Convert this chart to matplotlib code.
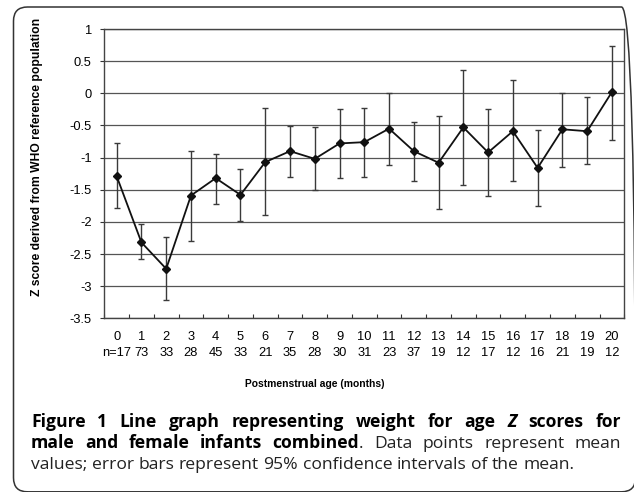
import numpy as np
import matplotlib
matplotlib.use('Agg')
import matplotlib.pyplot as plt
from matplotlib.patches import FancyBboxPatch
from matplotlib.transforms import IdentityTransform

plt.rcParams['font.family'] = ['Liberation Sans', 'DejaVu Sans']
plt.rcParams['axes.unicode_minus'] = False

# data
months = list(range(21))
n_infants = [17, 73, 33, 28, 45, 33, 21, 35, 28, 30, 31, 23, 37, 19, 12, 17, 12, 16, 21, 19, 12]
z_mean = [-1.29, -2.32, -2.73, -1.59, -1.32, -1.58, -1.07, -0.90, -1.02, -0.78, -0.76,
          -0.55, -0.90, -1.08, -0.53, -0.92, -0.59, -1.16, -0.56, -0.59, 0.02]
ci_upper = [-0.78, -2.04, -2.23, -0.89, -0.94, -1.17, -0.23, -0.51, -0.52, -0.25, -0.23,
            0.01, -0.44, -0.35, 0.36, -0.25, 0.21, -0.57, 0.01, -0.05, 0.74]
ci_lower = [-1.79, -2.58, -3.22, -2.30, -1.72, -1.98, -1.90, -1.30, -1.51, -1.32, -1.30,
            -1.12, -1.36, -1.80, -1.43, -1.59, -1.37, -1.75, -1.15, -1.10, -0.72]
y_ticks = [1, 0.5, 0, -0.5, -1, -1.5, -2, -2.5, -3, -3.5]

W, H = 634, 492
fig = plt.figure(figsize=(W/100, H/100), dpi=100)

# rounded frame around figure + caption (runs off the right and bottom edges)
frame = FancyBboxPatch((13.5, 0.2), 622, 484.8, boxstyle='round,pad=0,rounding_size=14',
                       transform=IdentityTransform(), fill=False, ec='#333333', lw=1.1)
fig.patches.append(frame)

ax = fig.add_axes([104.3/W, (H-318.3)/H, 520/W, 289.3/H])

x = np.array(months)
z = np.array(z_mean)
yerr = [z - np.array(ci_lower), np.array(ci_upper) - z]
ax.errorbar(x, z, yerr=yerr, fmt='none', ecolor='#3a3a3a', elinewidth=1.0,
            capsize=2.5, capthick=1.0, zorder=3)
ax.plot(x, z, color='#111111', lw=1.3, marker='D', ms=4.4, mfc='#111111', mec='#111111', zorder=4)

ax.set_xlim(-0.5, 20.5)
ax.set_ylim(-3.5, 1)
for yv in y_ticks:
    ax.axhline(yv, color='#555555', lw=0.9, zorder=1)

ax.set_yticks(y_ticks)
ax.set_yticklabels(['%g' % v for v in y_ticks], fontsize=9.3)
ax.tick_params(axis='y', direction='out', length=3, width=0.8, pad=6, color='#333333')

ax.set_xticks(np.arange(-0.5, 21, 1))
ax.set_xticklabels([])
ax.tick_params(axis='x', which='major', direction='in', length=3, width=0.8, color='#333333')
ax.set_xticks(x, minor=True)
lbls = []
for m, n in zip(months, n_infants):
    lbls.append('%d\n%s%d' % (m, 'n=' if m == 0 else '', n))
ax.set_xticklabels(lbls, minor=True, fontsize=9.3, linespacing=1.45)
ax.tick_params(axis='x', which='minor', length=0, pad=9)

for s in ax.spines.values():
    s.set_color('#444444')
    s.set_linewidth(1.0)

fig.text(37/W, 1-157/H, 'Z score derived from WHO reference population', rotation=90,
         ha='center', va='center', fontsize=8.7, fontweight='bold')
fig.text(315/W, 1-384/H, 'Postmenstrual age (months)', ha='center', va='center',
         fontsize=7.4, fontweight='bold')

# caption, drawn word by word so the first two lines can be justified
cap_font = ['Open Sans', 'DejaVu Sans']
cap_size = 12.6
B = dict(fontweight='bold')
BI = dict(fontweight='bold', fontstyle='italic')
R = dict(fontweight='normal', color='#222222')
line1 = [[('Figure', B)], [('1', B)], [('Line', B)], [('graph', B)], [('representing', B)],
         [('weight', B)], [('for', B)], [('age', B)], [('Z', BI)], [('scores', B)], [('for', B)]]
line2 = [[('male', B)], [('and', B)], [('female', B)], [('infants', B)],
         [('combined', B), ('.', R)], [('Data', R)], [('points', R)], [('represent', R)], [('mean', R)]]
line3 = [[(w, R)] for w in 'values; error bars represent 95% confidence intervals of the mean.'.split()]

renderer = fig.canvas.get_renderer()


def width_of(txt, props):
    t = fig.text(0, 0, txt, transform=IdentityTransform(), fontsize=cap_size, family=cap_font, **props)
    w = t.get_window_extent(renderer).width
    t.remove()
    return w


def draw_caption_line(words, y, x0, x1, justify):
    widths = [sum(width_of(s, p) for s, p in w) for w in words]
    if justify:
        gap = (x1 - x0 - sum(widths)) / (len(words) - 1)
    else:
        gap = width_of('a a', R) - width_of('aa', R)
    xp = x0
    for w, wd in zip(words, widths):
        xs = xp
        for s, p in w:
            t = fig.text(xs, y, s, transform=IdentityTransform(), fontsize=cap_size,
                         family=cap_font, va='baseline', **p)
            xs += t.get_window_extent(renderer).width
        xp += wd + gap


draw_caption_line(line1, H-427, 31, 621, True)
draw_caption_line(line2, H-448, 31, 621, True)
draw_caption_line(line3, H-469, 31, 621, False)

fig.savefig('out.png', dpi=100)
